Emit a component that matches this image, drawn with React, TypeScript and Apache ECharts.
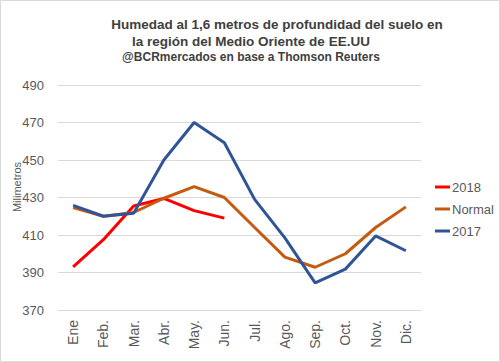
import React, { useEffect, useRef } from "react";
import * as echarts from "echarts";

const months = ["Ene", "Feb.", "Mar.", "Abr.", "May.", "Jun.", "Jul.", "Ago.", "Sep.", "Oct.", "Nov.", "Dic."];
const serie2018 = [393, 407.5, 425.5, 429.5, 423, 419];
const serieNormal = [424.6, 420, 422, 429.6, 435.8, 430, 414, 398.2, 392.8, 400, 414, 425];
const serie2017 = [425.8, 420, 421.6, 450, 470, 459.2, 429, 408.5, 384.5, 391.8, 409.5, 401.6];
const yTicks = [370, 390, 410, 430, 450, 470, 490];

const titleLine1 = "Humedad al 1,6 metros de profundidad del suelo en";
const titleLine2 = "la región del Medio Oriente de EE.UU";
const subtitle = "@BCRmercados en base a Thomson Reuters";
const yName = "Milimetros";

export default function App() {
  const ref = useRef<HTMLDivElement>(null);
  useEffect(() => {
    if (!ref.current) return;
    const chart = echarts.init(ref.current, null, { renderer: "svg" });
    const labelColor = "#595959";
    const ff = "'Liberation Sans', Arial, sans-serif";
    chart.setOption({
      animation: false,
      backgroundColor: "#ffffff",
      graphic: [
        {
          type: "rect",
          shape: { x: 0.5, y: 0.5, width: 499, height: 361 },
          style: { fill: "none", stroke: "#d9d9d9", lineWidth: 1 },
          silent: true,
        },
        {
          type: "text",
          style: {
            text: titleLine1, x: 277, y: 24.5, textAlign: "center", textVerticalAlign: "middle",
            font: "bold 13.5px " + ff, fill: "#404040",
          },
        },
        {
          type: "text",
          style: {
            text: titleLine2, x: 251, y: 41.5, textAlign: "center", textVerticalAlign: "middle",
            font: "bold 13.5px " + ff, fill: "#404040",
          },
        },
        {
          type: "text",
          style: {
            text: subtitle, x: 251, y: 56.5, textAlign: "center", textVerticalAlign: "middle",
            font: "bold 12px " + ff, fill: "#404040",
          },
        },
        {
          type: "text",
          x: 17,
          y: 187,
          rotation: Math.PI / 2,
          style: {
            text: yName, x: 0, y: 0, textAlign: "center", textVerticalAlign: "middle",
            font: "11px " + ff, fill: labelColor,
          },
        },
      ],
      grid: { left: 58, right: 79, top: 85, bottom: 52, containLabel: false },
      legend: {
        orient: "vertical",
        left: 430,
        top: 175.5,
        itemWidth: 15,
        itemHeight: 3,
        itemGap: 9,
        icon: "rect",
        textStyle: { fontSize: 13, color: labelColor, fontFamily: ff, padding: [0, 0, 0, -3] },
        data: ["2018", "Normal", "2017"],
      },
      xAxis: {
        type: "category",
        data: months,
        boundaryGap: true,
        axisLine: { show: true, lineStyle: { color: "#d9d9d9", width: 1 } },
        axisTick: { show: false },
        axisLabel: {
          rotate: 90,
          margin: 10,
          fontSize: 14,
          color: labelColor,
          fontFamily: ff,
        },
      },
      yAxis: {
        type: "value",
        min: 370,
        max: 490,
        axisLine: { show: false },
        axisTick: { show: false, customValues: yTicks },
        axisLabel: {
          customValues: yTicks,
          margin: 14,
          fontSize: 13,
          color: labelColor,
          fontFamily: ff,
        },
        splitLine: { show: true, lineStyle: { color: "#d9d9d9", width: 1 } },
      },
      series: [
        {
          name: "2018", type: "line", data: serie2018, showSymbol: false, symbol: "none",
          lineStyle: { color: "#ff0000", width: 3 }, itemStyle: { color: "#ff0000" },
        },
        {
          name: "Normal", type: "line", data: serieNormal, showSymbol: false, symbol: "none",
          lineStyle: { color: "#c55a11", width: 3 }, itemStyle: { color: "#c55a11" },
        },
        {
          name: "2017", type: "line", data: serie2017, showSymbol: false, symbol: "none",
          lineStyle: { color: "#2f5597", width: 3 }, itemStyle: { color: "#2f5597" },
        },
      ],
    });
    return () => chart.dispose();
  }, []);
  return (
    <div
      ref={ref}
      style={{ position: "fixed", left: 0, top: 0, width: 500, height: 362 }}
    />
  );
}
